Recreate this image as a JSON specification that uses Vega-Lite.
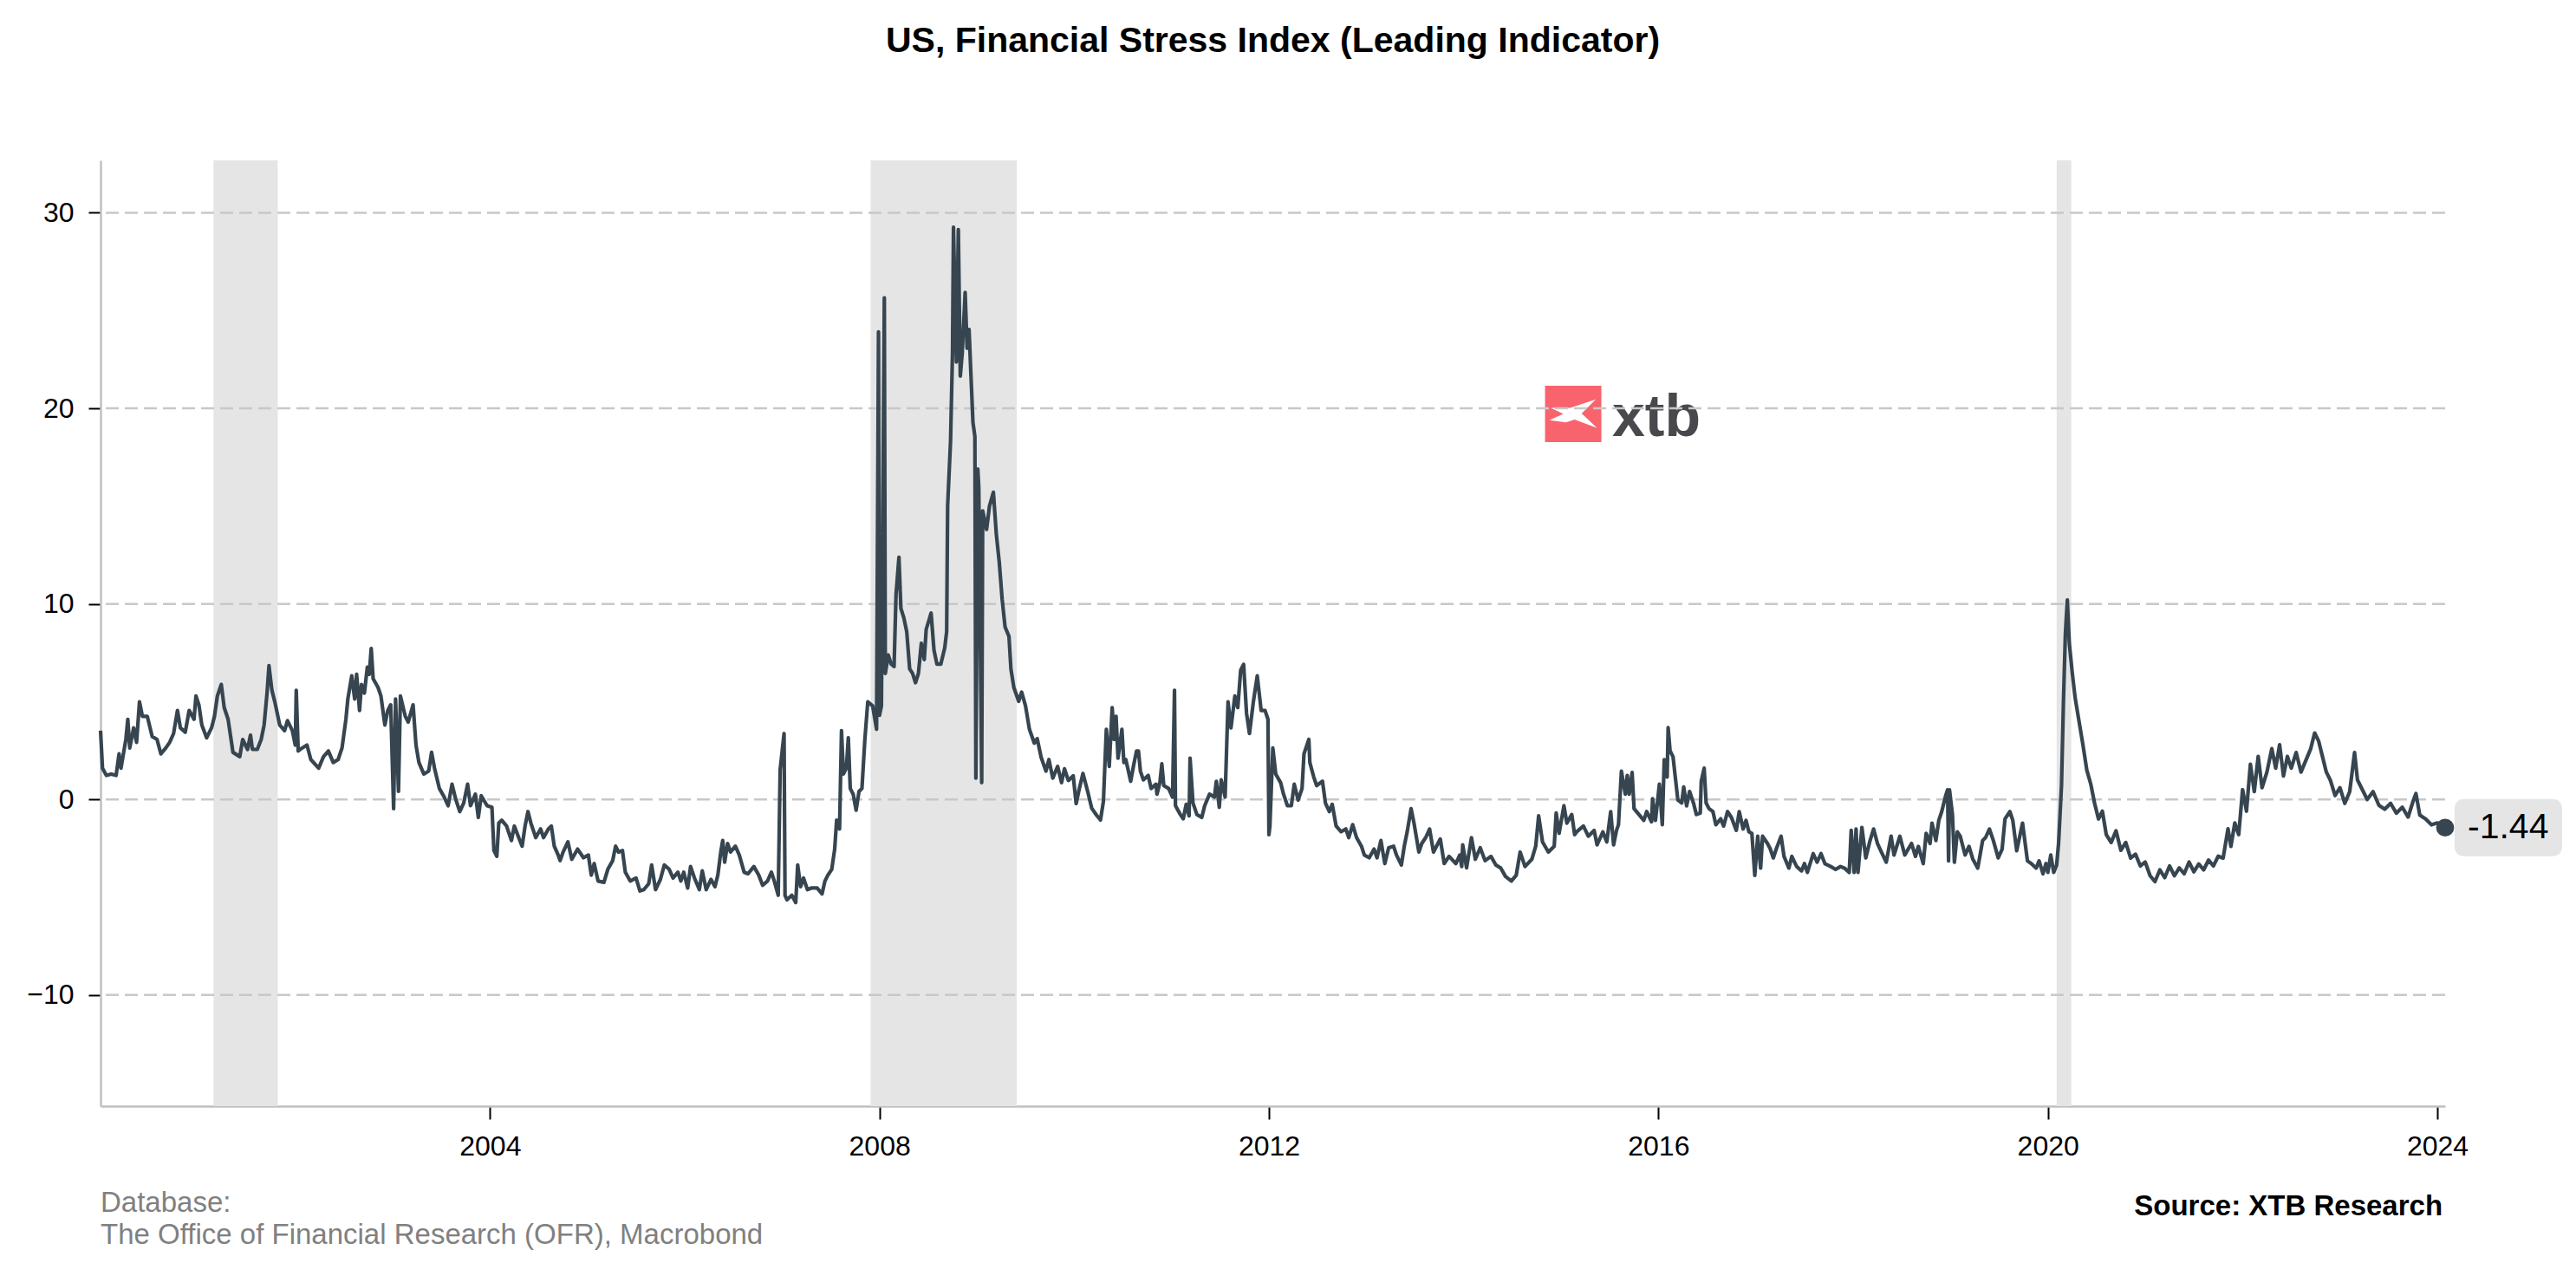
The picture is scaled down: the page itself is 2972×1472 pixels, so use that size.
{
"$schema": "https://vega.github.io/schema/vega-lite/v6.json",
"autosize": {"type": "none"},
"padding": {"left": 116, "top": 185, "right": 151, "bottom": 196},
"width": 2705,
"height": 1091,
"background": "white",
"config": {"font": "Liberation Sans", "view": {"stroke": null},
  "axisX": {"domainColor": "#c0c0c0", "domainWidth": 2.5, "tickColor": "#000000", "tickWidth": 2, "tickSize": 15, "labelFontSize": 32, "labelColor": "#000000", "labelPadding": 16, "labelFlush": false, "labelFont": "Liberation Sans", "grid": false},
  "axisY": {"domainColor": "#c0c0c0", "domainWidth": 2.5, "tickColor": "#000000", "tickWidth": 2, "tickSize": 14, "labelFontSize": 32, "labelColor": "#000000", "labelPadding": 17, "labelFont": "Liberation Sans", "grid": false}},
"title": {"text": "US, Financial Stress Index (Leading Indicator)", "font": "Liberation Sans", "fontSize": 41, "fontWeight": "bold", "color": "#000000", "anchor": "middle", "frame": "group", "baseline": "alphabetic", "offset": 84},
"datasets": {
"rec": [{"start": 2001.16, "end": 2001.82}, {"start": 2007.91, "end": 2009.41}, {"start": 2020.09, "end": 2020.24}],
"grid": [{"g": -10}, {"g": 0}, {"g": 10}, {"g": 20}, {"g": 30}],
"last": [{"t": 2024.08, "v": -1.44, "label": "-1.44"}],
"fsi": [
{"t":2000.00,"v":3.52},{"t":2000.02,"v":1.60},{"t":2000.06,"v":1.23},{"t":2000.11,"v":1.30},{"t":2000.16,"v":1.23},{"t":2000.19,"v":2.33},{"t":2000.21,"v":1.60},{"t":2000.26,"v":3.07},{"t":2000.28,"v":4.10},{"t":2000.30,"v":2.63},{"t":2000.34,"v":3.66},{"t":2000.37,"v":2.92},{"t":2000.40,"v":4.99},{"t":2000.43,"v":4.25},{"t":2000.48,"v":4.25},{"t":2000.53,"v":3.22},{"t":2000.58,"v":3.07},{"t":2000.62,"v":2.33},{"t":2000.67,"v":2.63},{"t":2000.71,"v":2.92},{"t":2000.75,"v":3.37},{"t":2000.79,"v":4.55},{"t":2000.82,"v":3.66},{"t":2000.87,"v":3.44},{"t":2000.91,"v":4.55},{"t":2000.96,"v":4.10},{"t":2000.98,"v":5.29},{"t":2001.01,"v":4.84},{"t":2001.04,"v":3.81},{"t":2001.09,"v":3.15},{"t":2001.14,"v":3.66},{"t":2001.17,"v":4.25},{"t":2001.20,"v":5.29},{"t":2001.24,"v":5.88},{"t":2001.27,"v":4.70},{"t":2001.31,"v":4.10},{"t":2001.36,"v":2.41},{"t":2001.43,"v":2.19},{"t":2001.46,"v":3.07},{"t":2001.51,"v":2.56},{"t":2001.54,"v":3.29},{"t":2001.56,"v":2.56},{"t":2001.61,"v":2.56},{"t":2001.65,"v":3.07},{"t":2001.68,"v":3.81},{"t":2001.71,"v":5.44},{"t":2001.73,"v":6.84},{"t":2001.76,"v":5.58},{"t":2001.79,"v":4.99},{"t":2001.84,"v":3.81},{"t":2001.89,"v":3.52},{"t":2001.92,"v":4.03},{"t":2001.97,"v":3.52},{"t":2002.00,"v":2.78},{"t":2002.01,"v":5.58},{"t":2002.03,"v":2.48},{"t":2002.07,"v":2.63},{"t":2002.12,"v":2.78},{"t":2002.16,"v":2.04},{"t":2002.24,"v":1.60},{"t":2002.29,"v":2.19},{"t":2002.34,"v":2.48},{"t":2002.39,"v":1.89},{"t":2002.44,"v":2.04},{"t":2002.48,"v":2.63},{"t":2002.52,"v":4.10},{"t":2002.54,"v":5.14},{"t":2002.58,"v":6.32},{"t":2002.61,"v":5.14},{"t":2002.63,"v":6.40},{"t":2002.66,"v":4.55},{"t":2002.68,"v":5.88},{"t":2002.71,"v":5.44},{"t":2002.74,"v":6.77},{"t":2002.76,"v":6.40},{"t":2002.78,"v":7.72},{"t":2002.80,"v":6.17},{"t":2002.85,"v":5.73},{"t":2002.88,"v":5.29},{"t":2002.92,"v":3.81},{"t":2002.95,"v":4.55},{"t":2002.98,"v":4.84},{"t":2003.01,"v":-0.47},{"t":2003.03,"v":5.14},{"t":2003.06,"v":0.41},{"t":2003.08,"v":5.29},{"t":2003.13,"v":4.25},{"t":2003.16,"v":3.96},{"t":2003.21,"v":4.84},{"t":2003.24,"v":2.78},{"t":2003.27,"v":1.89},{"t":2003.32,"v":1.30},{"t":2003.37,"v":1.45},{"t":2003.40,"v":2.41},{"t":2003.43,"v":1.60},{"t":2003.48,"v":0.56},{"t":2003.53,"v":0.12},{"t":2003.57,"v":-0.32},{"t":2003.61,"v":0.78},{"t":2003.65,"v":-0.03},{"t":2003.69,"v":-0.62},{"t":2003.73,"v":-0.18},{"t":2003.77,"v":0.78},{"t":2003.80,"v":-0.32},{"t":2003.85,"v":0.27},{"t":2003.88,"v":-0.92},{"t":2003.91,"v":0.19},{"t":2003.97,"v":-0.32},{"t":2004.02,"v":-0.40},{"t":2004.04,"v":-2.61},{"t":2004.07,"v":-2.91},{"t":2004.09,"v":-1.21},{"t":2004.12,"v":-1.06},{"t":2004.17,"v":-1.36},{"t":2004.22,"v":-2.10},{"t":2004.25,"v":-1.36},{"t":2004.30,"v":-2.02},{"t":2004.33,"v":-2.39},{"t":2004.36,"v":-1.36},{"t":2004.39,"v":-0.62},{"t":2004.42,"v":-1.21},{"t":2004.47,"v":-1.95},{"t":2004.52,"v":-1.51},{"t":2004.55,"v":-1.95},{"t":2004.60,"v":-1.51},{"t":2004.63,"v":-1.36},{"t":2004.66,"v":-2.39},{"t":2004.70,"v":-2.84},
{"t":2004.72,"v":-3.13},{"t":2004.75,"v":-2.70},{"t":2004.80,"v":-2.17},{"t":2004.84,"v":-3.06},{"t":2004.90,"v":-2.54},{"t":2004.96,"v":-2.98},{"t":2005.01,"v":-2.84},{"t":2005.04,"v":-3.87},{"t":2005.07,"v":-3.28},{"t":2005.11,"v":-4.17},{"t":2005.17,"v":-4.24},{"t":2005.21,"v":-3.57},{"t":2005.26,"v":-3.13},{"t":2005.29,"v":-2.39},{"t":2005.32,"v":-2.69},{"t":2005.36,"v":-2.61},{"t":2005.39,"v":-3.72},{"t":2005.44,"v":-4.17},{"t":2005.50,"v":-4.02},{"t":2005.54,"v":-4.68},{"t":2005.58,"v":-4.61},{"t":2005.63,"v":-4.31},{"t":2005.66,"v":-3.35},{"t":2005.70,"v":-4.61},{"t":2005.75,"v":-4.09},{"t":2005.79,"v":-3.35},{"t":2005.84,"v":-3.57},{"t":2005.88,"v":-4.02},{"t":2005.93,"v":-3.72},{"t":2005.96,"v":-4.17},{"t":2005.99,"v":-3.72},{"t":2006.03,"v":-4.53},{"t":2006.06,"v":-3.43},{"t":2006.10,"v":-4.02},{"t":2006.15,"v":-4.61},{"t":2006.18,"v":-3.65},{"t":2006.22,"v":-4.61},{"t":2006.27,"v":-4.09},{"t":2006.31,"v":-4.46},{"t":2006.34,"v":-3.87},{"t":2006.37,"v":-2.69},{"t":2006.39,"v":-2.10},{"t":2006.41,"v":-3.21},{"t":2006.44,"v":-2.25},{"t":2006.47,"v":-2.69},{"t":2006.52,"v":-2.39},{"t":2006.56,"v":-2.84},{"t":2006.61,"v":-3.72},{"t":2006.65,"v":-3.80},{"t":2006.71,"v":-3.43},{"t":2006.76,"v":-3.87},{"t":2006.80,"v":-4.39},{"t":2006.85,"v":-4.17},{"t":2006.89,"v":-3.72},{"t":2006.92,"v":-4.17},{"t":2006.96,"v":-4.90},{"t":2006.98,"v":1.52},{"t":2007.02,"v":3.37},{"t":2007.03,"v":-4.90},{"t":2007.05,"v":-5.13},{"t":2007.10,"v":-4.90},{"t":2007.14,"v":-5.27},{"t":2007.16,"v":-3.35},{"t":2007.19,"v":-4.46},{"t":2007.22,"v":-4.02},{"t":2007.26,"v":-4.61},{"t":2007.30,"v":-4.53},{"t":2007.36,"v":-4.53},{"t":2007.41,"v":-4.83},{"t":2007.44,"v":-4.17},{"t":2007.47,"v":-3.87},{"t":2007.51,"v":-3.57},{"t":2007.54,"v":-2.54},{"t":2007.56,"v":-1.06},{"t":2007.59,"v":-1.51},{"t":2007.61,"v":3.52},{"t":2007.63,"v":1.30},{"t":2007.66,"v":1.60},{"t":2007.68,"v":3.15},{"t":2007.70,"v":0.56},{"t":2007.73,"v":0.27},{"t":2007.76,"v":-0.55},{"t":2007.79,"v":0.41},{"t":2007.82,"v":0.56},{"t":2007.85,"v":3.07},{"t":2007.88,"v":4.99},
{"t":2007.93,"v":4.78},{"t":2007.97,"v":3.59},{"t":2007.99,"v":23.91},{"t":2008.00,"v":4.30},{"t":2008.02,"v":4.78},{"t":2008.05,"v":25.65},{"t":2008.06,"v":6.44},{"t":2008.09,"v":7.39},{"t":2008.12,"v":6.92},{"t":2008.15,"v":6.80},{"t":2008.17,"v":10.48},{"t":2008.20,"v":12.38},{"t":2008.22,"v":9.77},{"t":2008.25,"v":9.29},{"t":2008.28,"v":8.58},{"t":2008.31,"v":6.68},{"t":2008.34,"v":6.44},{"t":2008.37,"v":5.97},{"t":2008.40,"v":6.44},{"t":2008.43,"v":7.99},{"t":2008.46,"v":7.15},{"t":2008.48,"v":8.70},{"t":2008.53,"v":9.53},{"t":2008.56,"v":7.63},{"t":2008.59,"v":6.92},{"t":2008.63,"v":6.92},{"t":2008.67,"v":7.75},{"t":2008.69,"v":8.58},{"t":2008.70,"v":15.00},{"t":2008.73,"v":18.33},{"t":2008.75,"v":22.84},{"t":2008.76,"v":29.26},{"t":2008.79,"v":22.37},{"t":2008.81,"v":29.14},{"t":2008.83,"v":21.65},{"t":2008.85,"v":22.84},{"t":2008.88,"v":25.93},{"t":2008.90,"v":23.08},{"t":2008.92,"v":24.03},{"t":2008.94,"v":21.65},{"t":2008.96,"v":19.28},{"t":2008.98,"v":18.56},{"t":2008.99,"v":1.09},{"t":2009.01,"v":16.90},{"t":2009.02,"v":15.95},{"t":2009.05,"v":0.86},{"t":2009.06,"v":14.76},{"t":2009.10,"v":13.81},{"t":2009.13,"v":15.00},{"t":2009.17,"v":15.71},{"t":2009.20,"v":13.57},{"t":2009.23,"v":12.15},{"t":2009.26,"v":10.24},{"t":2009.29,"v":8.82},{"t":2009.33,"v":8.34},{"t":2009.35,"v":6.68},{"t":2009.38,"v":5.73},{"t":2009.43,"v":5.02},{"t":2009.46,"v":5.49},{"t":2009.50,"v":4.78},{"t":2009.54,"v":3.59},{"t":2009.59,"v":2.88},{"t":2009.62,"v":3.11},{"t":2009.66,"v":2.16},{"t":2009.71,"v":1.45},{"t":2009.74,"v":2.04},{"t":2009.78,"v":1.09},{"t":2009.83,"v":1.69},{"t":2009.87,"v":0.86},{"t":2009.90,"v":1.57},{"t":2009.94,"v":0.97},{"t":2009.99,"v":1.21},{"t":2010.02,"v":-0.21},{"t":2010.05,"v":0.50},{"t":2010.09,"v":1.33},{"t":2010.14,"v":0.38},{"t":2010.18,"v":-0.45},{"t":2010.23,"v":-0.81},{"t":2010.27,"v":-1.05},{"t":2010.30,"v":-0.10},{"t":2010.33,"v":3.59},{"t":2010.36,"v":1.69},
{"t":2010.39,"v":4.70},{"t":2010.41,"v":3.07},{"t":2010.43,"v":4.25},{"t":2010.45,"v":2.11},{"t":2010.49,"v":3.59},{"t":2010.51,"v":1.89},{"t":2010.53,"v":2.04},{"t":2010.58,"v":0.93},{"t":2010.61,"v":1.74},{"t":2010.64,"v":2.48},{"t":2010.66,"v":2.48},{"t":2010.68,"v":1.45},{"t":2010.71,"v":1.00},{"t":2010.76,"v":1.23},{"t":2010.79,"v":0.56},{"t":2010.84,"v":0.78},{"t":2010.85,"v":0.27},{"t":2010.88,"v":0.86},{"t":2010.90,"v":1.82},{"t":2010.92,"v":0.71},{"t":2010.97,"v":0.56},{"t":2011.01,"v":0.12},{"t":2011.03,"v":5.58},{"t":2011.04,"v":-0.32},{"t":2011.09,"v":-0.77},{"t":2011.12,"v":-0.99},{"t":2011.15,"v":-0.25},{"t":2011.18,"v":-0.84},{"t":2011.19,"v":2.11},{"t":2011.22,"v":-0.18},{"t":2011.26,"v":-0.77},{"t":2011.31,"v":-0.92},{"t":2011.34,"v":-0.32},{"t":2011.39,"v":0.27},{"t":2011.44,"v":0.12},{"t":2011.46,"v":0.93},{"t":2011.49,"v":-0.40},{"t":2011.51,"v":1.00},{"t":2011.55,"v":0.12},{"t":2011.58,"v":4.99},{"t":2011.61,"v":3.66},{"t":2011.65,"v":5.29},{"t":2011.68,"v":4.70},{"t":2011.71,"v":6.62},{"t":2011.74,"v":6.91},{"t":2011.77,"v":4.40},{"t":2011.80,"v":3.37},{"t":2011.84,"v":4.99},{"t":2011.88,"v":6.32},{"t":2011.92,"v":4.55},{"t":2011.96,"v":4.55},{"t":2011.99,"v":4.10},{"t":2012.00,"v":-1.80},{"t":2012.01,"v":-1.36},{"t":2012.04,"v":2.63},{"t":2012.07,"v":1.30},{"t":2012.12,"v":0.86},{"t":2012.15,"v":0.27},{"t":2012.19,"v":-0.32},{"t":2012.23,"v":-0.32},{"t":2012.26,"v":0.78},{"t":2012.30,"v":-0.03},{"t":2012.34,"v":0.56},{"t":2012.36,"v":2.33},{"t":2012.41,"v":3.07},{"t":2012.42,"v":1.89},{"t":2012.46,"v":1.15},{"t":2012.49,"v":0.71},{"t":2012.55,"v":0.93},{"t":2012.58,"v":-0.18},{"t":2012.62,"v":-0.62},{"t":2012.65,"v":-0.25},{"t":2012.69,"v":-1.36},{"t":2012.74,"v":-1.65},{"t":2012.79,"v":-1.51},{"t":2012.82,"v":-1.95},{"t":2012.86,"v":-1.29},{"t":2012.90,"v":-1.95},{"t":2012.95,"v":-2.39},{"t":2012.98,"v":-2.84},{"t":2013.03,"v":-2.98},{"t":2013.08,"v":-2.54},{"t":2013.11,"v":-2.98},{"t":2013.15,"v":-2.10},{"t":2013.19,"v":-3.28},{"t":2013.23,"v":-2.47},{"t":2013.28,"v":-2.39},{"t":2013.31,"v":-2.84},{"t":2013.36,"v":-3.35},{"t":2013.39,"v":-2.39},{"t":2013.42,"v":-1.65},{"t":2013.46,"v":-0.47},{"t":2013.49,"v":-1.21},{"t":2013.54,"v":-2.69},{"t":2013.57,"v":-2.25},{"t":2013.61,"v":-1.95},{"t":2013.65,"v":-1.51},{"t":2013.69,"v":-2.69},{"t":2013.76,"v":-2.02},{"t":2013.80,"v":-3.28},{"t":2013.85,"v":-2.91},{"t":2013.92,"v":-3.28},{"t":2013.96,"v":-2.84},{"t":2013.98,"v":-3.43},{"t":2013.99,"v":-2.32},{"t":2014.03,"v":-3.50},{"t":2014.08,"v":-1.95},{"t":2014.12,"v":-3.06},{"t":2014.17,"v":-2.47},{"t":2014.22,"v":-3.13},{"t":2014.28,"v":-2.91},{"t":2014.33,"v":-3.35},{"t":2014.38,"v":-3.50},{"t":2014.43,"v":-3.94},{"t":2014.49,"v":-4.17},{"t":2014.54,"v":-3.87},{"t":2014.58,"v":-2.69},{"t":2014.63,"v":-3.43},{"t":2014.70,"v":-3.06},{"t":2014.74,"v":-2.39},{"t":2014.77,"v":-0.84},{"t":2014.81,"v":-2.17},{"t":2014.87,"v":-2.69},{"t":2014.93,"v":-2.39},{"t":2014.95,"v":-0.69},{"t":2014.98,"v":-1.73},{"t":2015.03,"v":-0.32},{"t":2015.06,"v":-1.21},{"t":2015.11,"v":-0.77},{"t":2015.14,"v":-1.80},
{"t":2015.16,"v":-1.66},{"t":2015.23,"v":-1.36},{"t":2015.28,"v":-1.88},{"t":2015.34,"v":-1.58},{"t":2015.37,"v":-2.32},{"t":2015.43,"v":-1.66},{"t":2015.47,"v":-2.17},{"t":2015.51,"v":-0.62},{"t":2015.54,"v":-2.32},{"t":2015.57,"v":-1.58},{"t":2015.59,"v":-1.29},{"t":2015.62,"v":1.45},{"t":2015.66,"v":0.27},{"t":2015.68,"v":1.23},{"t":2015.70,"v":0.27},{"t":2015.73,"v":1.38},{"t":2015.75,"v":-0.47},{"t":2015.80,"v":-0.77},{"t":2015.85,"v":-1.07},{"t":2015.88,"v":-0.62},{"t":2015.93,"v":-1.14},{"t":2015.94,"v":0.04},{"t":2015.97,"v":-1.07},{"t":2016.01,"v":0.78},{"t":2016.04,"v":-1.29},{"t":2016.06,"v":2.04},{"t":2016.09,"v":1.15},{"t":2016.10,"v":3.67},{"t":2016.12,"v":2.49},{"t":2016.15,"v":2.19},{"t":2016.17,"v":1.30},{"t":2016.20,"v":-0.03},{"t":2016.24,"v":-0.18},{"t":2016.26,"v":0.64},{"t":2016.29,"v":-0.33},{"t":2016.32,"v":0.41},{"t":2016.36,"v":-0.18},{"t":2016.39,"v":-0.77},{"t":2016.43,"v":-0.70},{"t":2016.44,"v":0.93},{"t":2016.47,"v":1.60},{"t":2016.49,"v":-0.18},{"t":2016.52,"v":-0.47},{"t":2016.56,"v":-0.62},{"t":2016.59,"v":-1.29},{"t":2016.64,"v":-0.99},{"t":2016.67,"v":-1.36},{"t":2016.71,"v":-0.62},{"t":2016.75,"v":-0.92},{"t":2016.80,"v":-1.58},{"t":2016.83,"v":-0.62},{"t":2016.87,"v":-1.51},{"t":2016.90,"v":-1.07},{"t":2016.93,"v":-1.66},{"t":2016.96,"v":-1.73},{"t":2016.99,"v":-3.88},{"t":2017.02,"v":-1.88},{"t":2017.05,"v":-3.51},{"t":2017.07,"v":-1.88},{"t":2017.12,"v":-2.25},{"t":2017.15,"v":-2.54},{"t":2017.18,"v":-2.99},{"t":2017.21,"v":-2.54},{"t":2017.26,"v":-1.88},{"t":2017.29,"v":-2.91},{"t":2017.34,"v":-3.51},{"t":2017.37,"v":-2.91},{"t":2017.42,"v":-3.43},{"t":2017.47,"v":-3.65},{"t":2017.50,"v":-3.28},{"t":2017.53,"v":-3.73},{"t":2017.59,"v":-2.77},{"t":2017.63,"v":-3.21},{"t":2017.67,"v":-2.77},{"t":2017.71,"v":-3.28},{"t":2017.77,"v":-3.43},{"t":2017.82,"v":-3.58},{"t":2017.87,"v":-3.43},{"t":2017.91,"v":-3.51},{"t":2017.96,"v":-3.73},{"t":2017.98,"v":-1.58},{"t":2018.01,"v":-3.73},{"t":2018.03,"v":-1.51},{"t":2018.05,"v":-3.73},{"t":2018.09,"v":-1.43},{"t":2018.13,"v":-2.99},{"t":2018.17,"v":-2.17},{"t":2018.21,"v":-1.51},{"t":2018.25,"v":-2.25},{"t":2018.29,"v":-2.69},{"t":2018.34,"v":-3.21},{"t":2018.39,"v":-1.88},{"t":2018.42,"v":-2.84},{"t":2018.48,"v":-1.88},{"t":2018.53,"v":-2.84},{"t":2018.60,"v":-2.25},{"t":2018.64,"v":-2.91},{"t":2018.67,"v":-2.40},{"t":2018.72,"v":-3.28},{"t":2018.75,"v":-1.73},{"t":2018.79,"v":-2.25},{"t":2018.81,"v":-1.21},{"t":2018.85,"v":-2.10},{"t":2018.88,"v":-1.07},{"t":2018.91,"v":-0.62},{"t":2018.95,"v":0.19},{"t":2018.97,"v":0.49},{"t":2018.98,"v":-3.14},{"t":2018.99,"v":0.49},{"t":2019.02,"v":-0.77},{"t":2019.04,"v":-3.21},{"t":2019.07,"v":-1.66},{"t":2019.10,"v":-1.88},{"t":2019.15,"v":-2.84},{"t":2019.19,"v":-2.40},{"t":2019.23,"v":-3.06},{"t":2019.28,"v":-3.51},{"t":2019.33,"v":-2.10},{"t":2019.36,"v":-1.95},{"t":2019.40,"v":-1.51},{"t":2019.44,"v":-2.10},{"t":2019.49,"v":-2.99},{"t":2019.53,"v":-2.54},{"t":2019.56,"v":-0.99},{"t":2019.61,"v":-0.62},{"t":2019.64,"v":-1.07},{"t":2019.68,"v":-2.62},{"t":2019.74,"v":-1.21},{"t":2019.79,"v":-3.14},{"t":2019.83,"v":-3.28},{"t":2019.88,"v":-3.51},{"t":2019.91,"v":-3.14},{"t":2019.95,"v":-3.80},{"t":2019.98,"v":-3.28},{"t":2020.00,"v":-3.73},{"t":2020.03,"v":-2.84},{"t":2020.06,"v":-3.73},{"t":2020.09,"v":-3.36},{"t":2020.11,"v":-2.25},{"t":2020.14,"v":0.71},
{"t":2020.16,"v":5.0},{"t":2020.18,"v":8.5},{"t":2020.20,"v":10.2},{"t":2020.22,"v":8.0},{"t":2020.25,"v":6.5},{"t":2020.28,"v":5.2},{"t":2020.32,"v":4.0},{"t":2020.36,"v":2.8},{"t":2020.40,"v":1.5},{"t":2020.44,"v":0.8},{"t":2020.48,"v":-0.2},{"t":2020.52,"v":-1.0},{"t":2020.56,"v":-0.6},{"t":2020.60,"v":-1.8},{"t":2020.65,"v":-2.2},{"t":2020.70,"v":-1.6},{"t":2020.75,"v":-2.6},{"t":2020.80,"v":-2.2},{"t":2020.85,"v":-3.0},{"t":2020.90,"v":-2.8},{"t":2020.95,"v":-3.4},{"t":2021.00,"v":-3.2},{"t":2021.05,"v":-3.9},{"t":2021.10,"v":-4.2},{"t":2021.15,"v":-3.6},{"t":2021.20,"v":-4.0},{"t":2021.25,"v":-3.4},{"t":2021.30,"v":-3.9},{"t":2021.35,"v":-3.5},{"t":2021.40,"v":-3.8},{"t":2021.45,"v":-3.2},{"t":2021.50,"v":-3.7},{"t":2021.55,"v":-3.3},{"t":2021.60,"v":-3.6},{"t":2021.65,"v":-3.1},{"t":2021.70,"v":-3.4},{"t":2021.75,"v":-2.9},{"t":2021.80,"v":-3.0},{"t":2021.85,"v":-1.5},{"t":2021.88,"v":-2.4},{"t":2021.92,"v":-1.2},{"t":2021.96,"v":-1.8},{"t":2022.00,"v":0.5},{"t":2022.04,"v":-0.6},{"t":2022.08,"v":1.8},{"t":2022.12,"v":0.4},{"t":2022.16,"v":2.2},{"t":2022.20,"v":0.6},{"t":2022.25,"v":1.4},{"t":2022.30,"v":2.6},{"t":2022.34,"v":1.6},{"t":2022.38,"v":2.8},{"t":2022.42,"v":1.2},{"t":2022.46,"v":2.2},{"t":2022.50,"v":1.6},{"t":2022.55,"v":2.4},{"t":2022.60,"v":1.4},{"t":2022.65,"v":2.0},{"t":2022.70,"v":2.6},{"t":2022.74,"v":3.4},{"t":2022.78,"v":3.0},{"t":2022.82,"v":2.2},{"t":2022.86,"v":1.4},{"t":2022.90,"v":1.0},{"t":2022.95,"v":0.2},{"t":2023.00,"v":0.6},{"t":2023.05,"v":-0.2},{"t":2023.10,"v":0.4},{"t":2023.15,"v":2.4},{"t":2023.18,"v":1.0},{"t":2023.22,"v":0.6},{"t":2023.28,"v":0.0},{"t":2023.34,"v":0.4},{"t":2023.40,"v":-0.3},{"t":2023.46,"v":-0.5},{"t":2023.52,"v":-0.2},{"t":2023.58,"v":-0.7},{"t":2023.64,"v":-0.4},{"t":2023.70,"v":-0.9},{"t":2023.75,"v":-0.1},{"t":2023.78,"v":0.3},{"t":2023.82,"v":-0.8},{"t":2023.88,"v":-1.0},{"t":2023.94,"v":-1.3},{"t":2024.00,"v":-1.2},{"t":2024.04,"v":-1.4},{"t":2024.08,"v":-1.44}
]
},
"layer": [
{"data": {"name": "rec"}, "mark": {"type": "rect", "color": "#e5e5e5"},
 "encoding": {
  "x": {"field": "start", "type": "quantitative", "scale": {"domain": [2000.0, 2024.08], "nice": false, "zero": false}, "axis": {"values": [2004, 2008, 2012, 2016, 2020, 2024], "format": "d", "title": null}},
  "x2": {"field": "end"}
 }},
{"data": {"values": [{}]}, "mark": {"type": "point", "shape": "square", "filled": true, "opacity": 1, "color": "#f8636e", "size": 4225},
 "encoding": {"x": {"datum": 2015.125, "type": "quantitative", "scale": {"domain": [2000.0, 2024.08], "nice": false, "zero": false}, "axis": {"values": [2004, 2008, 2012, 2016, 2020, 2024], "format": "d", "title": null}},
              "y": {"datum": 19.71, "type": "quantitative", "scale": {"domain": [-15.68, 32.68], "nice": false, "zero": false}, "axis": {"values": [-10, 0, 10, 20, 30], "title": null}}}},
{"data": {"values": [{}]}, "mark": {"type": "point", "shape": "M -0.8 -0.22 L -0.1 -0.22 L 0.8 -0.52 L 0.3 -0.02 L 0.85 0.5 L 0.05 0.2 L -0.25 0.3 L -0.85 0.22 L -0.35 0 Z", "filled": true, "opacity": 1, "color": "#ffffff", "size": 4225},
 "encoding": {"x": {"datum": 2015.125, "type": "quantitative", "scale": {"domain": [2000.0, 2024.08], "nice": false, "zero": false}, "axis": {"values": [2004, 2008, 2012, 2016, 2020, 2024], "format": "d", "title": null}},
              "y": {"datum": 19.71, "type": "quantitative", "scale": {"domain": [-15.68, 32.68], "nice": false, "zero": false}, "axis": {"values": [-10, 0, 10, 20, 30], "title": null}}}},
{"data": {"values": [{}]}, "mark": {"type": "text", "text": "xtb", "font": "Liberation Sans", "fontWeight": "bold", "fontSize": 68, "color": "#48484d", "align": "left", "baseline": "alphabetic", "dx": 45, "dy": 25},
 "encoding": {"x": {"datum": 2015.125, "type": "quantitative", "scale": {"domain": [2000.0, 2024.08], "nice": false, "zero": false}, "axis": {"values": [2004, 2008, 2012, 2016, 2020, 2024], "format": "d", "title": null}},
              "y": {"datum": 19.71, "type": "quantitative", "scale": {"domain": [-15.68, 32.68], "nice": false, "zero": false}, "axis": {"values": [-10, 0, 10, 20, 30], "title": null}}}},
{"data": {"name": "grid"}, "mark": {"type": "rule", "color": "#c8c8c8", "strokeWidth": 2.5, "strokeDash": [15, 7]},
 "encoding": {"y": {"field": "g", "type": "quantitative", "scale": {"domain": [-15.68, 32.68], "nice": false, "zero": false}, "axis": {"values": [-10, 0, 10, 20, 30], "title": null}}}},
{"data": {"name": "fsi"}, "mark": {"type": "line", "color": "#36454f", "strokeWidth": 4.2, "strokeJoin": "round"},
 "encoding": {"x": {"field": "t", "type": "quantitative", "scale": {"domain": [2000.0, 2024.08], "nice": false, "zero": false}, "axis": {"values": [2004, 2008, 2012, 2016, 2020, 2024], "format": "d", "title": null}},
              "y": {"field": "v", "type": "quantitative", "scale": {"domain": [-15.68, 32.68], "nice": false, "zero": false}, "axis": {"values": [-10, 0, 10, 20, 30], "title": null}}}},
{"data": {"name": "last"}, "mark": {"type": "point", "shape": "M 0.69 -1 L 3.73 -1 Q 4.09 -1 4.09 -0.64 L 4.09 0.64 Q 4.09 1 3.73 1 L 0.69 1 Q 0.33 1 0.33 0.64 L 0.33 -0.64 Q 0.33 -1 0.69 -1 Z", "filled": true, "opacity": 1, "color": "#e5e5e5", "size": 4356},
 "encoding": {"x": {"field": "t", "type": "quantitative", "scale": {"domain": [2000.0, 2024.08], "nice": false, "zero": false}, "axis": {"values": [2004, 2008, 2012, 2016, 2020, 2024], "format": "d", "title": null}},
              "y": {"field": "v", "type": "quantitative", "scale": {"domain": [-15.68, 32.68], "nice": false, "zero": false}, "axis": {"values": [-10, 0, 10, 20, 30], "title": null}}}},
{"data": {"name": "last"}, "mark": {"type": "point", "shape": "circle", "filled": true, "opacity": 1, "color": "#36454f", "size": 430},
 "encoding": {"x": {"field": "t", "type": "quantitative", "scale": {"domain": [2000.0, 2024.08], "nice": false, "zero": false}, "axis": {"values": [2004, 2008, 2012, 2016, 2020, 2024], "format": "d", "title": null}},
              "y": {"field": "v", "type": "quantitative", "scale": {"domain": [-15.68, 32.68], "nice": false, "zero": false}, "axis": {"values": [-10, 0, 10, 20, 30], "title": null}}}},
{"data": {"name": "last"}, "mark": {"type": "text", "font": "Liberation Sans", "fontSize": 41, "color": "#000000", "align": "left", "baseline": "alphabetic", "dx": 26, "dy": 12},
 "encoding": {"x": {"field": "t", "type": "quantitative", "scale": {"domain": [2000.0, 2024.08], "nice": false, "zero": false}, "axis": {"values": [2004, 2008, 2012, 2016, 2020, 2024], "format": "d", "title": null}},
              "y": {"field": "v", "type": "quantitative", "scale": {"domain": [-15.68, 32.68], "nice": false, "zero": false}, "axis": {"values": [-10, 0, 10, 20, 30], "title": null}},
              "text": {"field": "label"}}},
{"data": {"values": [{}]}, "mark": {"type": "text", "text": ["Database:", "The Office of Financial Research (OFR), Macrobond"], "lineHeight": 37, "font": "Liberation Sans", "fontSize": 33, "color": "#808080", "align": "left", "baseline": "alphabetic"},
 "encoding": {"x": {"datum": 2000.0, "type": "quantitative", "scale": {"domain": [2000.0, 2024.08], "nice": false, "zero": false}, "axis": {"values": [2004, 2008, 2012, 2016, 2020, 2024], "format": "d", "title": null}},
              "y": {"datum": -21.09, "type": "quantitative", "scale": {"domain": [-15.68, 32.68], "nice": false, "zero": false}, "axis": {"values": [-10, 0, 10, 20, 30], "title": null}}}},
{"data": {"values": [{}]}, "mark": {"type": "text", "text": "Source: XTB Research", "font": "Liberation Sans", "fontWeight": "bold", "fontSize": 33, "color": "#000000", "align": "right", "baseline": "alphabetic"},
 "encoding": {"x": {"datum": 2024.054, "type": "quantitative", "scale": {"domain": [2000.0, 2024.08], "nice": false, "zero": false}, "axis": {"values": [2004, 2008, 2012, 2016, 2020, 2024], "format": "d", "title": null}},
              "y": {"datum": -21.26, "type": "quantitative", "scale": {"domain": [-15.68, 32.68], "nice": false, "zero": false}, "axis": {"values": [-10, 0, 10, 20, 30], "title": null}}}}
]
}
